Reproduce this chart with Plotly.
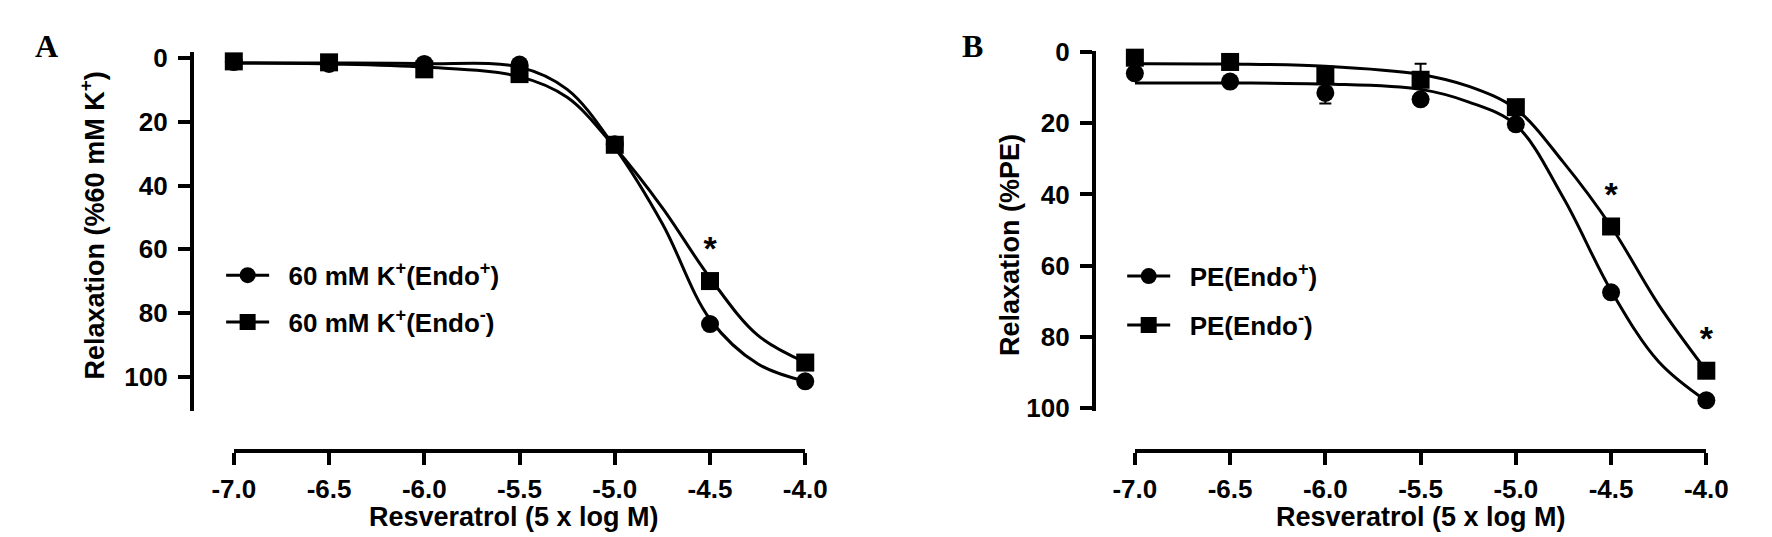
import plotly.graph_objects as go

W, H = 1772, 537

# resveratrol concentrations (5 x log M)
doses = [-7.0, -6.5, -6.0, -5.5, -5.0, -4.5, -4.0]

# panel A: 60 mM K+ precontraction, % relaxation
a_endo_plus = [1.2, 1.8, 1.8, 2.0, 27.0, 83.5, 101.5]
a_endo_minus = [1.0, 1.3, 3.5, 5.0, 27.2, 70.0, 95.6]
a_star = ["", "", "", "", "", "*", ""]

# panel B: PE precontraction, % relaxation
b_endo_plus = [6.0, 8.3, 11.5, 13.3, 20.3, 67.5, 97.8]
b_endo_minus = [1.6, 2.8, 6.4, 7.8, 15.5, 49.0, 89.5]
b_plus_err = [0, 0, 3.0, 0, 0, 0, 0]
b_minus_err = [0, 0, 0, 4.5, 0, 0, 0]
b_star = ["", "", "", "", "", "*", "*"]

# fitted curves
fit_doses = [-7.0, -6.5, -6.0, -5.5, -5.25, -5.0, -4.75, -4.5, -4.25, -4.0]
a_fit_plus = [1.5, 1.5, 1.7, 2.8, 9.8, 28.0, 52.0, 82.0, 96.0, 101.5]
a_fit_minus = [1.5, 1.8, 2.8, 5.8, 12.3, 28.0, 47.0, 69.0, 87.0, 95.5]
b_fit_plus = [8.7, 8.7, 9.0, 10.5, 14.0, 20.5, 41.0, 67.0, 87.0, 98.0]
b_fit_minus = [3.3, 3.4, 4.0, 6.3, 9.6, 16.0, 31.0, 49.0, 71.0, 89.5]

y_ticks = [0, 20, 40, 60, 80, 100]

FONT = "Liberation Sans, Arial, sans-serif"
SERIF = "Liberation Serif, Times New Roman, serif"
NB = "\u00a0\u00a0"  # extra gap between legend symbol and text


def px(x):
    return x / W


def py(y):
    return 1 - y / H


fig = go.Figure()


def add_panel(xa, ya, fits, points, errs, stars, names, legend):
    symbols = ["circle", "square"]
    for fit in fits:
        fig.add_trace(go.Scatter(
            x=fit_doses, y=fit, mode="lines", xaxis=xa, yaxis=ya,
            line=dict(color="black", width=3, shape="spline", smoothing=1.0),
            showlegend=False, hoverinfo="skip",
        ))
    for pts, err, sym, txt in zip(points, errs, symbols, stars):
        fig.add_trace(go.Scatter(
            x=doses, y=pts, mode="markers+text", xaxis=xa, yaxis=ya,
            marker=dict(symbol=sym, size=18, color="black"),
            text=txt, textposition="top center",
            textfont=dict(family=FONT, size=34, color="black", weight="bold"),
            error_y=dict(type="data", array=err[0], arrayminus=err[1],
                         color="black", thickness=2, width=6, visible=True),
            cliponaxis=False, showlegend=False,
        ))
    # legend-only entries (line + marker symbol)
    for name, sym in zip(names, symbols):
        fig.add_trace(go.Scatter(
            x=[None], y=[None], mode="lines+markers", xaxis=xa, yaxis=ya,
            marker=dict(symbol=sym, size=18, color="black"),
            line=dict(color="black", width=3),
            name=NB + name, legend=legend, legendgroup=legend + sym,
        ))


zeros = [0] * len(doses)
add_panel("x", "y", [a_fit_plus, a_fit_minus], [a_endo_plus, a_endo_minus],
          [(zeros, zeros), (zeros, zeros)], [["" for _ in doses], a_star],
          ["60 mM K<sup>+</sup>(Endo<sup>+</sup>)", "60 mM K<sup>+</sup>(Endo<sup>-</sup>)"],
          "legend")
add_panel("x2", "y2", [b_fit_plus, b_fit_minus], [b_endo_plus, b_endo_minus],
          [(b_plus_err, zeros), (zeros, b_minus_err)], [["" for _ in doses], b_star],
          ["PE(Endo<sup>+</sup>)", "PE(Endo<sup>-</sup>)"],
          "legend2")

tickfont = dict(family=FONT, size=26, color="black", weight="bold")
x_common = dict(
    range=[-7.0, -4.0], tickmode="array", tickvals=doses,
    ticktext=[f"{d:.1f}" for d in doses],
    showline=True, linewidth=4, linecolor="black", ticks="outside",
    ticklen=12, tickwidth=4, tickcolor="black", showgrid=False, zeroline=False,
    tickfont=tickfont, anchor="free", position=py(451), ticklabelstandoff=2,
)
y_common = dict(
    tickmode="array", tickvals=y_ticks, ticktext=[str(v) for v in y_ticks],
    showline=True, linewidth=4, linecolor="black", ticks="outside",
    ticklen=12, tickwidth=4, tickcolor="black", showgrid=False, zeroline=False,
    tickfont=tickfont, anchor="free", ticklabelstandoff=5,
)
legend_font = dict(family=FONT, size=26, color="black", weight="bold")

fig.update_layout(
    width=W, height=H,
    margin=dict(l=0, r=0, t=0, b=0),
    paper_bgcolor="white", plot_bgcolor="white",
    xaxis=dict(domain=[px(209), px(795)], **x_common),
    yaxis=dict(domain=[py(409), py(33)], range=[110.8, -1.8], position=px(166), **y_common),
    xaxis2=dict(domain=[px(1133), px(1719)], **x_common),
    yaxis2=dict(domain=[py(409), py(31)], range=[100.8, -0.4], position=px(1091), **y_common),
    legend=dict(x=px(196), y=py(242), xanchor="left", yanchor="top",
                font=legend_font, itemwidth=43,
                bgcolor="rgba(0,0,0,0)", tracegroupgap=10),
    legend2=dict(x=px(1120), y=py(243), xanchor="left", yanchor="top",
                 font=legend_font, itemwidth=43,
                 bgcolor="rgba(0,0,0,0)", tracegroupgap=12),
    showlegend=True,
)

title_font = dict(family=FONT, size=27, color="black", weight="bold")
annotations = [
    dict(text="A", x=px(17), y=py(26), font=dict(family=SERIF, size=32, color="black", weight="bold")),
    dict(text="B", x=px(966), y=py(26), font=dict(family=SERIF, size=32, color="black", weight="bold")),
    dict(text="Resveratrol (5 x log M)", x=px(496), y=py(520), font=title_font),
    dict(text="Resveratrol (5 x log M)", x=px(1426), y=py(520), font=title_font),
    dict(text="Relaxation (%60 mM K<sup>+</sup>)", x=px(64), y=py(214), textangle=-90, font=title_font),
    dict(text="Relaxation (%PE)", x=px(1005), y=py(235), textangle=-90, font=title_font),
]
for a in annotations:
    fig.add_annotation(xref="paper", yref="paper", showarrow=False,
                       xanchor="center", yanchor="middle", **a)

fig.write_html("out.html")
